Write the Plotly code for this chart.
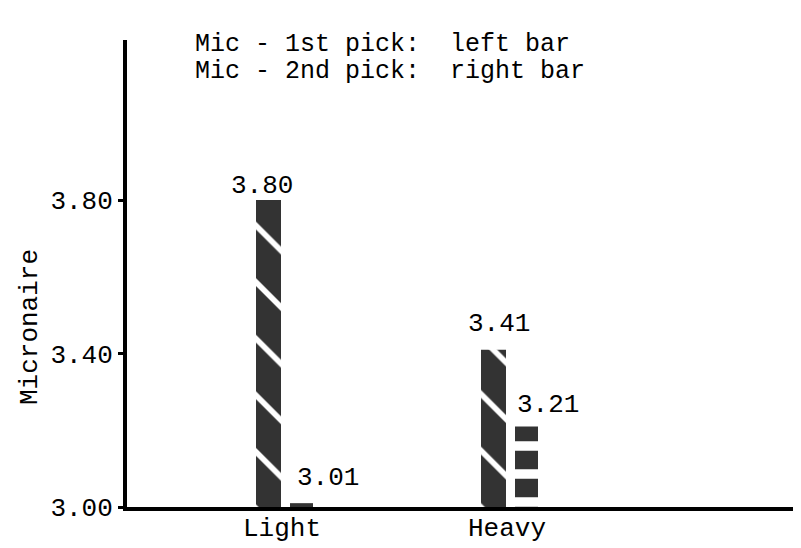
import plotly.graph_objects as go

categories = ["Light", "Heavy"]
first_pick = [3.80, 3.41]
second_pick = [3.01, 3.21]
y_ticks = [3.00, 3.40, 3.80]
y_tick_labels = ["3.00", "3.40", "3.80"]

FONT = "Liberation Mono, Courier New, monospace"
FS = 26
DARK = "#333333"
PX_PER_CAT = 225.0

fig = go.Figure()
fig.add_trace(go.Bar(
    x=categories, y=[v - 3.0 for v in first_pick], base=3.0,
    offset=-26 / PX_PER_CAT, width=25 / PX_PER_CAT,
    marker=dict(color=DARK, line=dict(width=0),
                pattern=dict(shape="\\", fgcolor="white", bgcolor=DARK,
                             size=40, solidity=0.14, fillmode="replace")),
    showlegend=False, hoverinfo="skip"))
fig.add_trace(go.Bar(
    x=categories, y=[v - 3.0 for v in second_pick], base=3.0,
    offset=8 / PX_PER_CAT, width=23 / PX_PER_CAT,
    marker=dict(color=DARK, line=dict(width=0),
                pattern=dict(shape="-", fgcolor="white", bgcolor=DARK,
                             size=[27, 28], solidity=[0.38, 0.34], fillmode="replace")),
    showlegend=False, hoverinfo="skip"))

annots = []
# value labels
annots.append(dict(x=categories[0], y=first_pick[0], text=f"{first_pick[0]:.2f}",
                   xshift=-20, yshift=14, yanchor="middle", xanchor="center", showarrow=False))
annots.append(dict(x=categories[0], y=second_pick[0], text=f"{second_pick[0]:.2f}",
                   xshift=13, yshift=25, yanchor="middle", xanchor="left", showarrow=False))
annots.append(dict(x=categories[1], y=first_pick[1], text=f"{first_pick[1]:.2f}",
                   xshift=-8, yshift=26, yanchor="middle", xanchor="center", showarrow=False))
annots.append(dict(x=categories[1], y=second_pick[1], text=f"{second_pick[1]:.2f}",
                   xshift=41, yshift=21, yanchor="middle", xanchor="center", showarrow=False))
# legend text
annots.append(dict(xref="paper", yref="paper", x=(193 - 127) / 673, y=1 - (45 - 40) / 467,
                   text="Mic - 1st pick:  left bar", font=dict(size=25),
                   xanchor="left", yanchor="middle", showarrow=False))
annots.append(dict(xref="paper", yref="paper", x=(193 - 127) / 673, y=1 - (72 - 40) / 467,
                   text="Mic - 2nd pick:  right bar", font=dict(size=25),
                   xanchor="left", yanchor="middle", showarrow=False))
# axis title
annots.append(dict(xref="paper", yref="paper", x=(30 - 127) / 673, y=1 - (327 - 40) / 467,
                   text="Micronaire", textangle=-90, xanchor="center", yanchor="middle", showarrow=False))

left_range = (282 - 127) / PX_PER_CAT
fig.update_layout(
    width=793, height=540,
    margin=dict(l=119, r=1, t=32, b=41, autoexpand=False),
    paper_bgcolor="white", plot_bgcolor="white",
    font=dict(family=FONT, size=FS, color="black"),
    barmode="overlay",
    annotations=annots,
    xaxis=dict(type="category", range=[-left_range, 673 / PX_PER_CAT - left_range],
               showgrid=False, zeroline=False, ticklabelstandoff=-6,
               showline=True, linecolor="black", linewidth=4, ticks="", tickfont=dict(size=FS)),
    yaxis=dict(range=[3.0, 4.217], tickvals=y_ticks, ticktext=y_tick_labels,
               showgrid=False, zeroline=False, showline=True, linecolor="black", linewidth=4,
               ticks="outside", ticklen=5, tickwidth=3, tickcolor="black", tickfont=dict(size=FS)),
)

fig.write_html("out.html")
